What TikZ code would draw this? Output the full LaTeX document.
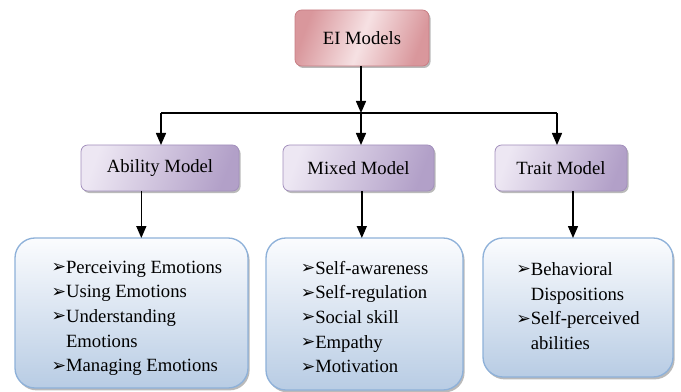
\documentclass[tikz,border=0pt]{standalone}
\usepackage{fontspec}
\setmainfont{Liberation Serif}
\newfontfamily\symfont{DejaVu Sans}
\usetikzlibrary{arrows.meta,shadows}

\definecolor{eiLight}{HTML}{F6E1E3}
\definecolor{eiDark}{HTML}{D9979C}
\definecolor{eiBorder}{HTML}{C77D83}
\definecolor{modLight}{HTML}{EDE7F3}
\definecolor{modDark}{HTML}{B2A0C8}
\definecolor{modBorder}{HTML}{A28FBC}
\definecolor{listTop}{HTML}{FBFCFE}
\definecolor{listBottom}{HTML}{B8CCE4}
\definecolor{listBorder}{HTML}{8EB1D9}

\newcommand{\arrowbul}{\raisebox{0.5pt}{\symfont\fontsize{13}{13}\selectfont ➢}\hspace{1pt}}

\begin{document}
\begin{tikzpicture}[x=0.75pt, y=-0.75pt,
  every node/.style={font=\fontsize{14}{18.5}\selectfont, inner sep=0pt, outer sep=0pt},
  topbox/.style={draw=eiBorder, line width=0.6pt, rounded corners=5pt, left color=eiDark, right color=eiDark, middle color=eiLight, shading angle=70, minimum width=100.5pt, minimum height=42pt, drop shadow={shadow xshift=1.2pt, shadow yshift=-1.5pt, fill=black!45, opacity=0.6}},
  modelbox/.style={draw=modBorder, line width=0.6pt, rounded corners=5pt, left color=modLight, right color=modDark, shading angle=70, minimum height=34.5pt, drop shadow={shadow xshift=1.2pt, shadow yshift=-1.5pt, fill=black!45, opacity=0.6}},
  listbox/.style={draw=listBorder, line width=1pt, rounded corners=15pt, top color=listTop, bottom color=listBottom, drop shadow={shadow xshift=1.2pt, shadow yshift=-1.8pt, fill=black!45, opacity=0.6}},
  arr/.style={-{Triangle[length=9pt,width=7.5pt]}, line width=1.1pt}]

\useasboundingbox (0,0) rectangle (681,392);

\node[topbox] (ei) at (362,38) {EI Models};

\node[modelbox, minimum width=118.5pt] (ability) at (160,168) {Ability Model};
\node[modelbox, minimum width=113.25pt] (mixed) at (358.5,168) {Mixed Model};
\node[modelbox, minimum width=99pt] (trait) at (561,168) {Trait Model};

\node[listbox, minimum width=174.75pt, minimum height=112.5pt] (abilitylist) at (131.5,313)
  {\begin{tabular}{@{}l@{}l@{}}
   \arrowbul & Perceiving Emotions\rule{0pt}{20pt}\\
   \arrowbul & Using Emotions\\
   \arrowbul & Understanding\\
             & Emotions\\
   \arrowbul & Managing Emotions
   \end{tabular}\hspace*{-8pt}};
\node[listbox, minimum width=147.75pt, minimum height=114pt] (mixedlist) at (364.5,314)
  {\begin{tabular}{@{}l@{}l@{}}
   \arrowbul & Self-awareness\rule{0pt}{20pt}\\
   \arrowbul & Self-regulation\\
   \arrowbul & Social skill\\
   \arrowbul & Empathy\\
   \arrowbul & Motivation
   \end{tabular}};
\node[listbox, minimum width=142.5pt, minimum height=104.25pt] (traitlist) at (578,307.5)
  {\begin{tabular}{@{}l@{}l@{}}
   \arrowbul & Behavioral\\
             & Dispositions\\
   \arrowbul & Self-perceived\\
             & abilities
   \end{tabular}};

\coordinate (bus) at (361,113);
\coordinate (busL) at (161,113);
\coordinate (busR) at (557,113);

\draw[arr] (ei.south -| bus) -- (bus);
\draw[line width=1.1pt] (busL) -- (busR);
\draw[arr] (bus) -- (bus |- mixed.north);
\draw[arr] (busL) -- (busL |- ability.north);
\draw[arr] (busR) -- (busR |- trait.north);

\draw[arr] ([xshift=-14pt]ability.south) -- ([xshift=-14pt]ability.south |- abilitylist.north);
\draw[arr] ([xshift=2.5pt]mixed.south) -- ([xshift=2.5pt]mixed.south |- mixedlist.north);
\draw[arr] ([xshift=9pt]trait.south) -- ([xshift=9pt]trait.south |- traitlist.north);
\end{tikzpicture}
\end{document}
